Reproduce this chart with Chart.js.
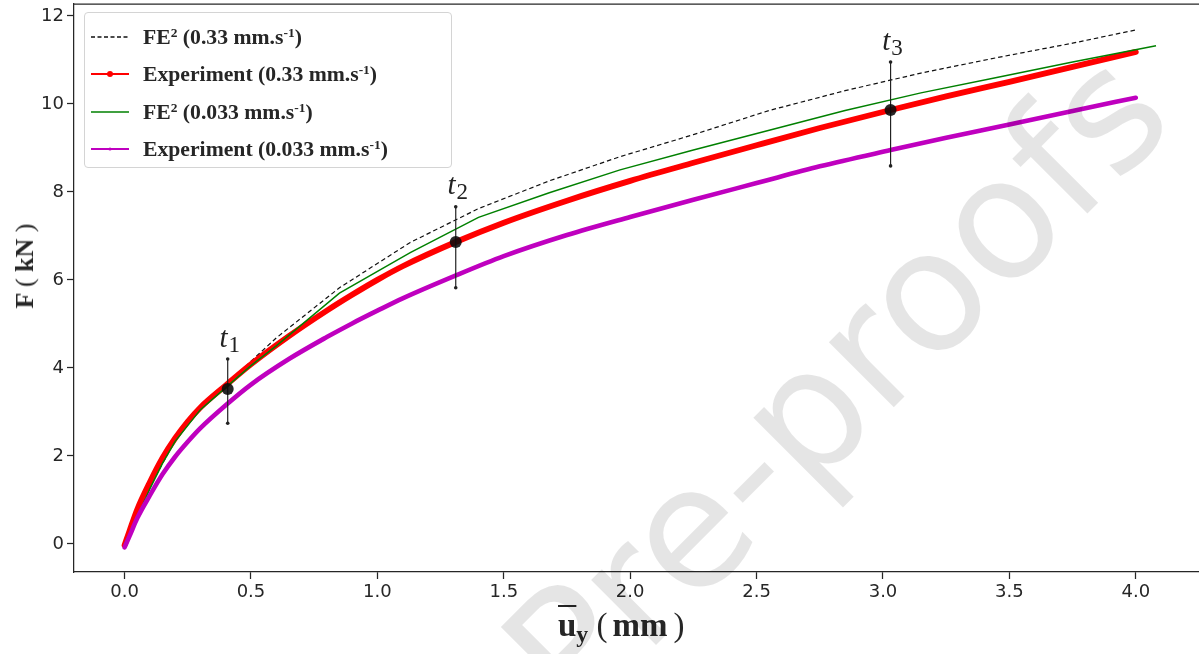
<!DOCTYPE html>
<html>
<head>
<meta charset="utf-8">
<script src="https://cdn.jsdelivr.net/npm/chart.js@4.4.0/dist/chart.umd.min.js"></script>
<style>
  html, body { margin: 0; padding: 0; background: #fff; }
  #wrap { position: relative; width: 1199px; height: 654px; overflow: hidden; }
  canvas { display: block; }
  .legend { position: absolute; left: 84px; top: 12px; width: 368px; height: 156px; box-sizing: border-box;
    border: 1px solid #d4d4d4; border-radius: 4px; background: rgba(255,255,255,0.8);
    font: bold 21.7px "Liberation Serif", serif; color: #262626; }
  .row { position: absolute; left: 0; height: 30px; display: flex; align-items: center; white-space: nowrap; }
  .row svg { margin-left: 6px; margin-right: 14px; }
  .row sup { font-size: 0.62em; vertical-align: 0.55em; line-height: 0; }
  .thin { font-weight: normal; }
  #ylab { position: absolute; left: 25px; top: 266px; transform: translate(-50%, -50%) rotate(-90deg);
    font: bold 26px "Liberation Serif", serif; color: #262626; white-space: nowrap; line-height: 1; }
  #xlab { position: absolute; left: 558px; top: 609px; font: bold 33px "Liberation Serif", serif; color: #262626;
    white-space: nowrap; line-height: 1; }
  #xlab .u { text-decoration: overline; text-decoration-thickness: 2px; }
  #xlab sub { font-size: 0.72em; vertical-align: -0.25em; line-height: 0; }
  #xlab .pl { margin-right: 5px; }
  #xlab .pr { margin-left: 6px; }
  #mark { position: absolute; left: 836px; top: 383px; transform: translate(-50%, -50%) rotate(-45deg);
    font: 168px "DejaVu Sans", sans-serif; color: rgba(0,0,0,0.1); white-space: nowrap; line-height: 1; pointer-events: none; }
</style>
</head>
<body>
<div id="wrap">
  <canvas id="grafico" width="1199" height="654"></canvas>
  <div class="legend">
    <div class="row" style="top:9px">
      <svg width="38" height="10"><line x1="0" y1="5" x2="38" y2="5" stroke="#111" stroke-width="1.3" stroke-dasharray="4,2.5"/></svg>
      <span>FE<sup>2</sup> (0.33 mm.s<sup>-1</sup>)</span>
    </div>
    <div class="row" style="top:46px">
      <svg width="38" height="10"><line x1="0" y1="5" x2="38" y2="5" stroke="#ff0000" stroke-width="2"/><circle cx="19" cy="5" r="3" fill="#ff0000"/></svg>
      <span>Experiment (0.33 mm.s<sup>-1</sup>)</span>
    </div>
    <div class="row" style="top:84px">
      <svg width="38" height="10"><line x1="0" y1="5" x2="38" y2="5" stroke="#008000" stroke-width="1.6"/></svg>
      <span>FE<sup>2</sup> (0.033 mm.s<sup>-1</sup>)</span>
    </div>
    <div class="row" style="top:121px">
      <svg width="38" height="10"><line x1="0" y1="5" x2="38" y2="5" stroke="#bf00bf" stroke-width="2"/><circle cx="19" cy="5" r="1.6" fill="#bf00bf"/></svg>
      <span>Experiment (0.033 mm.s<sup>-1</sup>)</span>
    </div>
  </div>
  <div id="ylab">F <span class="thin">(</span> kN <span class="thin">)</span></div>
  <div id="xlab"><span class="u">u</span><sub>y</sub> <span class="thin pl">(</span>mm<span class="thin pr">)</span></div>
  <div id="mark">Pre-proofs</div>
</div>
<script>
// ticks
const xTicks = [0, 0.5, 1, 1.5, 2, 2.5, 3, 3.5, 4];
const yTicks = [0, 2, 4, 6, 8, 10, 12];

// FE² 0.33 mm/s (tracejado)
const feFastX = [0, 0.05, 0.1, 0.2, 0.3, 0.4, 0.5, 0.6, 0.85, 1.13, 1.4, 1.68, 1.96, 2.25, 2.55, 2.85, 3.15, 3.45, 3.75, 4.0];
const feFast = [0, 0.62, 1.3, 2.35, 3.08, 3.6, 4.15, 4.68, 5.82, 6.85, 7.62, 8.25, 8.8, 9.3, 9.85, 10.3, 10.7, 11.05, 11.38, 11.68];

// FE² 0.033 mm/s
const feSlowX = [0, 0.05, 0.1, 0.15, 0.2, 0.3, 0.4, 0.5, 0.6, 0.85, 1.13, 1.4, 1.68, 1.96, 2.25, 2.55, 2.85, 3.15, 3.45, 3.75, 4.08];
const feSlow = [0, 0.6, 1.25, 1.83, 2.33, 3.05, 3.55, 4.05, 4.5, 5.7, 6.62, 7.42, 7.98, 8.5, 8.95, 9.4, 9.85, 10.25, 10.6, 10.95, 11.32];

// experimentos
const expX = [0, 0.02, 0.05, 0.1, 0.15, 0.2, 0.25, 0.3, 0.4, 0.5, 0.65, 0.8, 0.9, 1.0, 1.1, 1.31, 1.5, 1.75, 2.0, 2.25, 2.5, 2.75, 3.03, 3.25, 3.5, 3.75, 4.0];
const expFast = [-0.03, 0.3, 0.78, 1.4, 1.95, 2.4, 2.78, 3.1, 3.6, 4.08, 4.72, 5.3, 5.66, 6.0, 6.31, 6.86, 7.3, 7.8, 8.25, 8.66, 9.06, 9.45, 9.86, 10.17, 10.5, 10.84, 11.18];
const expSlow = [-0.08, 0.18, 0.58, 1.1, 1.58, 1.98, 2.32, 2.63, 3.15, 3.62, 4.2, 4.7, 5.01, 5.3, 5.58, 6.1, 6.54, 7.02, 7.43, 7.82, 8.2, 8.58, 8.95, 9.23, 9.53, 9.84, 10.14];

// instantes t1, t2, t3 com barras
const markNames = ["1", "2", "3"];
const markX = [0.408, 1.31, 3.03];
const markF = [3.52, 6.86, 9.86];
const markLo = [2.74, 5.82, 8.59];
const markHi = [4.2, 7.66, 10.95];

const pts = (xs, ys) => xs.map((x, i) => ({ x: x, y: ys[i] }));

const barSets = markX.map((x, i) => ({
  data: [{ x: x, y: markLo[i] }, { x: x, y: markHi[i] }],
  showLine: true, borderColor: "#222", borderWidth: 1.2,
  pointRadius: 1.8, pointBackgroundColor: "#222", pointBorderWidth: 0, order: -1
}));

// linha superior do quadro
const topSpine = {
  id: "topSpine",
  beforeDatasetsDraw(chart) {
    const a = chart.chartArea, c = chart.ctx;
    c.save();
    c.strokeStyle = "#262626";
    c.lineWidth = 1.25;
    c.beginPath();
    c.moveTo(a.left, a.top);
    c.lineTo(a.right, a.top);
    c.stroke();
    c.restore();
  }
};

// rótulos t1, t2, t3 acima das barras
const tLabels = {
  id: "tLabels",
  afterDatasetsDraw(chart) {
    const c = chart.ctx, sx = chart.scales.x, sy = chart.scales.y;
    c.save();
    c.fillStyle = "#222";
    c.textBaseline = "alphabetic";
    markX.forEach((x, i) => {
      const px = sx.getPixelForValue(x) + 2;
      const py = sy.getPixelForValue(markHi[i]) - 12.5;
      c.font = 'italic 29px "Liberation Serif"';
      const wt = c.measureText("t").width;
      c.font = '23px "Liberation Serif"';
      const ws = c.measureText(markNames[i]).width;
      const left = px - (wt + ws + 1) / 2;
      c.font = 'italic 29px "Liberation Serif"';
      c.fillText("t", left, py);
      c.font = '23px "Liberation Serif"';
      c.fillText(markNames[i], left + wt + 1, py + 5);
    });
    c.restore();
  }
};

const tickFont = { family: "DejaVu Sans", size: 18 };

const ctx = document.getElementById("grafico");
const chart = new Chart(ctx, {
  type: "scatter",
  data: {
    datasets: [
      {
        label: "FE2 (0.33 mm.s-1)", data: pts(feFastX, feFast), showLine: true,
        borderColor: "#111", borderWidth: 1.2, borderDash: [4.5, 3], pointRadius: 0, order: 4
      },
      {
        label: "Experiment (0.33 mm.s-1)", data: pts(expX, expFast), showLine: true,
        borderColor: "#ff0000", borderWidth: 5.8, borderCapStyle: "round", cubicInterpolationMode: "monotone",
        pointRadius: 0, order: 3
      },
      {
        label: "FE2 (0.033 mm.s-1)", data: pts(feSlowX, feSlow), showLine: true,
        borderColor: "#008000", borderWidth: 1.5, pointRadius: 0, order: 2
      },
      {
        label: "Experiment (0.033 mm.s-1)", data: pts(expX, expSlow), showLine: true,
        borderColor: "#bf00bf", borderWidth: 4.6, borderCapStyle: "round", cubicInterpolationMode: "monotone",
        pointRadius: 0, order: 1
      },
      ...barSets,
      {
        data: pts(markX, markF), showLine: false, pointRadius: 6,
        pointBackgroundColor: "rgba(10,10,10,0.88)", pointBorderWidth: 0, order: -2
      }
    ]
  },
  options: {
    responsive: false,
    animation: false,
    layout: { autoPadding: false, padding: { top: 4, left: 0, right: 0, bottom: 0 } },
    plugins: { legend: { display: false }, tooltip: { enabled: false } },
    scales: {
      x: {
        type: "linear", min: -0.2, max: 4.25,
        afterBuildTicks: (s) => { s.ticks = xTicks.map((v) => ({ value: v })); },
        afterFit: (s) => { s.height = 82; s.paddingLeft = 0; s.paddingRight = 0; },
        ticks: { font: tickFont, color: "#262626", padding: 3, maxRotation: 0, autoSkip: false,
          callback: (v) => Number(v).toFixed(1) },
        grid: { drawOnChartArea: false, drawTicks: true, tickLength: 7, tickColor: "#262626", tickWidth: 1.25 },
        border: { display: true, color: "#262626", width: 1.25 }
      },
      y: {
        type: "linear", min: -0.64, max: 12.27,
        afterBuildTicks: (s) => { s.ticks = yTicks.map((v) => ({ value: v })); },
        afterFit: (s) => { s.width = 74; s.paddingTop = 0; s.paddingBottom = 0; },
        ticks: { font: tickFont, color: "#262626", padding: 3, autoSkip: false,
          callback: (v) => String(v) },
        grid: { drawOnChartArea: false, drawTicks: true, tickLength: 7, tickColor: "#262626", tickWidth: 1.25 },
        border: { display: true, color: "#262626", width: 1.25 }
      }
    }
  },
  plugins: [topSpine, tLabels]
});
</script>
</body>
</html>
